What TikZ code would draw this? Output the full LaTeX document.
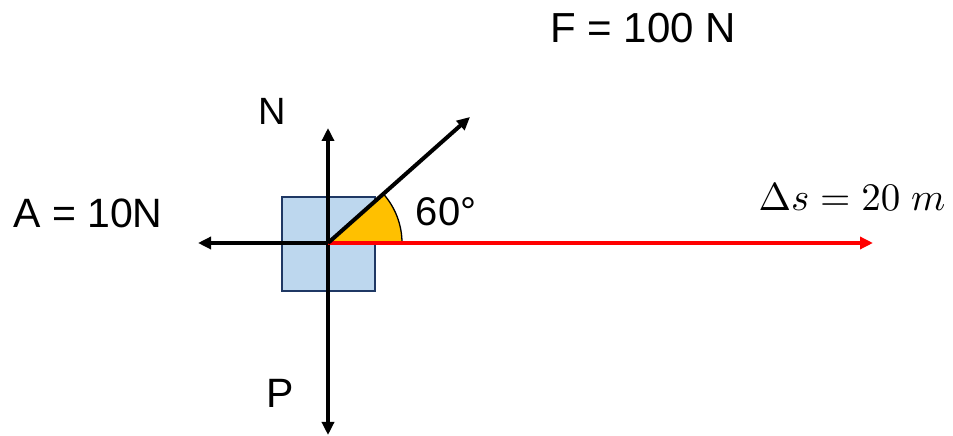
\documentclass[tikz,border=0pt]{standalone}
\usepackage{fontspec}
\setmainfont{Liberation Sans}
\usetikzlibrary{arrows.meta}
\definecolor{blkfill}{RGB}{189,215,238}
\definecolor{blkline}{RGB}{31,56,100}
\definecolor{angfill}{RGB}{255,192,0}
\tikzset{
  force/.style={line width=4pt, -{Triangle[length=13pt,width=12pt]}},
  lbl/.style={inner sep=0pt, font=\fontsize{41}{46}\selectfont},
}
\begin{document}
\begin{tikzpicture}[x=1pt, y=1pt]
  \useasboundingbox (0,0) rectangle (953,436);
  % block
  \node[draw=blkline, line width=1.8pt, fill=blkfill, minimum width=93pt,
        minimum height=94pt, inner sep=0pt] (blk) at (328.5,192) {};
  \coordinate (O) at (328,193);
  \coordinate (Ntip) at (328,308);
  \coordinate (Ptip) at (328,1);
  \coordinate (Atip) at (198,193);
  \coordinate (Ftip) at (470,319);
  \coordinate (Stip) at (873,193);
  % angle
  \draw[fill=angfill, line width=1.3pt]
    (O) -- ++(0:74) arc[start angle=0, end angle=41.5, radius=74] -- cycle;
  % forces
  \draw[force] (O) -- (Ntip);
  \draw[force] (O) -- (Ptip);
  \draw[force] (O) -- (Atip);
  \draw[force, red] (O) -- (Stip);
  \draw[force] (O) -- (Ftip);
  % labels
  \node[lbl, font=\fontsize{42}{46}\selectfont] (Flbl) at (643,408) {F = 100 N};
  \node[lbl, font=\fontsize{38}{42}\selectfont] (Nlbl) at (272,325) {N};
  \node[lbl] (Albl) at (88,223) {A = 10N};
  \node[lbl] (Plbl) at (280,43) {P};
  \node[lbl, font=\fontsize{40}{44}\selectfont] (ang) at (446,224) {60°};
  \node[inner sep=0pt, scale=3.9] (slbl) at (852,239) {$\Delta s = 20\ m$};
\end{tikzpicture}
\end{document}
